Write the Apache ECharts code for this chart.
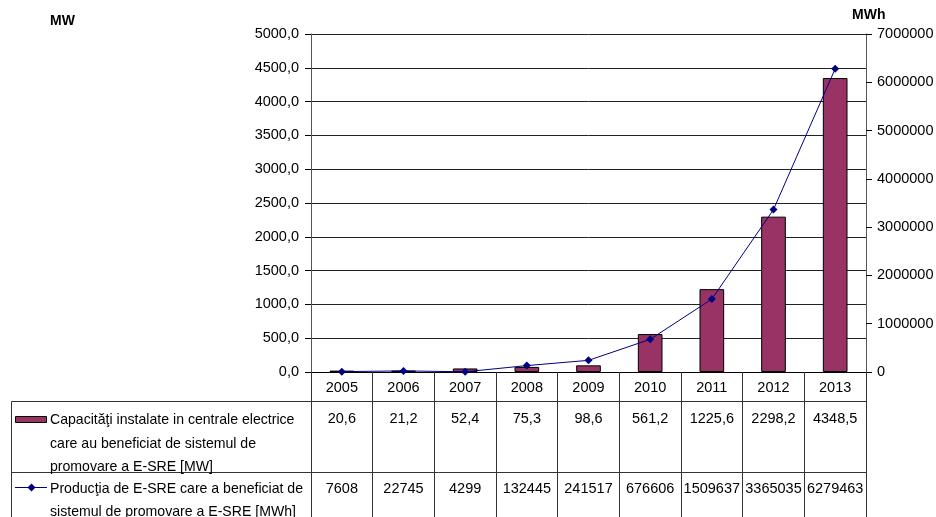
<!DOCTYPE html>
<html><head><meta charset="utf-8">
<script src="https://cdn.jsdelivr.net/npm/echarts@6/dist/echarts.min.js"></script>
<style>html,body{margin:0;padding:0;background:#fff}#c{width:936px;height:517px}</style>
</head><body><div id="c"></div>
<script>
const categories = ['2005','2006','2007','2008','2009','2010','2011','2012','2013'];
const capacityMW = [20.6, 21.2, 52.4, 75.3, 98.6, 561.2, 1225.6, 2298.2, 4348.5];
const productionMWh = [7608, 22745, 4299, 132445, 241517, 676606, 1509637, 3365035, 6279463];
const leftTicks = [0, 500, 1000, 1500, 2000, 2500, 3000, 3500, 4000, 4500, 5000];
const rightTicks = [0, 1000000, 2000000, 3000000, 4000000, 5000000, 6000000, 7000000];
const seriesNames = [
  'Capacităţi instalate in centrale electrice\ncare au beneficiat de sistemul de\npromovare a E-SRE [MW]',
  'Producţia de E-SRE care a beneficiat de\nsistemul de promovare a E-SRE [MWh]'
];
const unitLeft = 'MW', unitRight = 'MWh';

const FONT = 'Liberation Sans, Arial, sans-serif';
const FS = 14.5;
const FSL = 14.1;
const fmtMW = v => v.toFixed(1).replace('.', ',');
const chart = echarts.init(document.getElementById('c'));
const lbl = {color:'#000', fontFamily:FONT, fontSize:FS};

chart.setOption({
  animation:false,
  grid:{left:311, right:70, top:34, bottom:145, containLabel:false, outerBoundsMode:'none'},
  xAxis:[
    {type:'category', data:categories, boundaryGap:true, position:'bottom',
     axisLine:{show:true, lineStyle:{color:'#000', width:1}},
     axisTick:{show:true, inside:false, length:145, interval:0, lineStyle:{color:'#333', width:1}},
     axisLabel:Object.assign({margin:8, interval:0}, lbl)},
    {type:'category', data:capacityMW.map(fmtMW), position:'bottom', offset:30,
     axisLine:{show:false}, axisTick:{show:false},
     axisLabel:Object.assign({margin:9, interval:0}, lbl)},
    {type:'category', data:productionMWh.map(String), position:'bottom', offset:101,
     axisLine:{show:false}, axisTick:{show:false},
     axisLabel:Object.assign({margin:8, interval:0}, lbl)}
  ],
  yAxis:[
    {type:'value', min:leftTicks[0], max:leftTicks[leftTicks.length-1], interval:leftTicks[1]-leftTicks[0],
     position:'left',
     axisLine:{show:true, lineStyle:{color:'#555'}},
     axisTick:{show:true, length:6, lineStyle:{color:'#000'}},
     splitLine:{show:true, lineStyle:{color:'#222', width:1}},
     axisLabel:Object.assign({margin:12, formatter:fmtMW}, lbl)},
    {type:'value', min:rightTicks[0], max:rightTicks[rightTicks.length-1], interval:rightTicks[1]-rightTicks[0],
     position:'right',
     axisLine:{show:true, lineStyle:{color:'#555'}},
     axisTick:{show:true, length:6, lineStyle:{color:'#000'}},
     splitLine:{show:false},
     axisLabel:Object.assign({margin:11, formatter:v => String(v)}, lbl)}
  ],
  series:[
    {type:'bar', name:seriesNames[0], data:capacityMW, xAxisIndex:0, yAxisIndex:0, barWidth:'40%',
     itemStyle:{color:'#993366', borderColor:'#000', borderWidth:1}},
    {type:'line', name:seriesNames[1], data:productionMWh, xAxisIndex:0, yAxisIndex:1,
     symbol:'diamond', symbolSize:8, showSymbol:true,
     lineStyle:{color:'#000080', width:1}, itemStyle:{color:'#000080'}}
  ],
  graphic:[
    {type:'text', left:50, top:14, style:{text:unitLeft, font:'bold 14px '+FONT, fill:'#000'}},
    {type:'text', left:852, top:8, style:{text:unitRight, font:'bold 14px '+FONT, fill:'#000'}},
    {type:'line', shape:{x1:11.5, y1:401.5, x2:866, y2:401.5}, style:{stroke:'#333', lineWidth:1}},
    {type:'line', shape:{x1:11.5, y1:472.5, x2:866, y2:472.5}, style:{stroke:'#333', lineWidth:1}},
    {type:'line', shape:{x1:11.5, y1:401.5, x2:11.5, y2:517}, style:{stroke:'#333', lineWidth:1}},
    {type:'rect', shape:{x:15.5, y:416.5, width:31, height:6}, style:{fill:'#993366', stroke:'#000', lineWidth:1}},
    {type:'line', shape:{x1:15, y1:487.5, x2:47, y2:487.5}, style:{stroke:'#000080', lineWidth:1}},
    {type:'polygon', shape:{points:[[31.5,483.5],[35.5,487.5],[31.5,491.5],[27.5,487.5]]}, style:{fill:'#000080'}},
    {type:'text', left:50, top:408.5, style:{text:seriesNames[0], font:FSL+'px '+FONT, fill:'#000', lineHeight:23.5}},
    {type:'text', left:50, top:478, style:{text:seriesNames[1], font:FSL+'px '+FONT, fill:'#000', lineHeight:23}}
  ]
});
</script></body></html>
